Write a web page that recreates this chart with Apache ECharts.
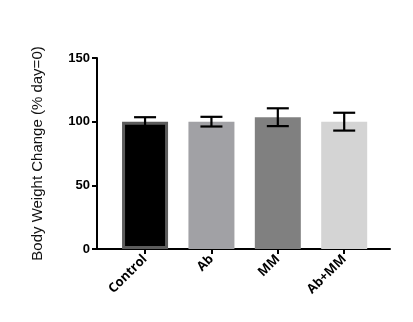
<!DOCTYPE html>
<html>
<head>
  <meta charset="utf-8" />
  <script src="https://cdn.jsdelivr.net/npm/echarts@6/dist/echarts.min.js"></script>
  <style>
    html, body { margin: 0; width: 100%; height: 100%; background: #fff; }
    #chart { width: 413px; height: 322px; }
  </style>
</head>
<body>
<div id="chart"></div>
<script>
  // groups, means and SEM
  const groups = ['Control', 'Ab', 'MM', 'Ab+MM']
  const means = [100, 100, 103.5, 100]
  const errs = [3.5, 3.8, 7, 7]
  const fills = ['#000000', '#a1a1a5', '#808080', '#d4d4d4']
  const yTicks = [0, 50, 100, 150]

  const chart = echarts.init(document.getElementById('chart'))

  const barData = groups.map((g, i) => ({
    value: [i, means[i]],
    itemStyle: {
      color: fills[i],
      borderColor: i === 0 ? '#5c5c5c' : fills[i],
      borderWidth: i === 0 ? 3 : 0
    }
  }))

  const errData = groups.map((g, i) => [i, means[i] - errs[i], means[i] + errs[i]])

  chart.setOption({
    animation: false,
    grid: { left: 97, right: 23, top: 58, bottom: 73 },
    xAxis: {
      type: 'value',
      min: -0.724,
      max: 3.69,
      splitLine: { show: false },
      axisLine: { show: true, onZero: false, lineStyle: { color: '#000', width: 2 } },
      axisTick: { show: true, customValues: [0, 1, 2, 3], length: 5, lineStyle: { color: '#000', width: 2 } },
      axisLabel: {
        customValues: [0, 1, 2, 3],
        formatter: v => groups[Math.round(v)] || '',
        rotate: 45,
        margin: 8,
        color: '#000',
        fontFamily: 'Open Sans',
        fontWeight: 'bold',
        fontSize: 13
      }
    },
    yAxis: {
      type: 'value',
      min: 0,
      max: 150,
      interval: 50,
      name: 'Body Weight Change (% day=0)',
      nameLocation: 'middle',
      nameGap: 52,
      nameTextStyle: { color: '#111', fontFamily: 'Liberation Sans', fontSize: 15 },
      splitLine: { show: false },
      axisLine: { show: true, onZero: false, lineStyle: { color: '#000', width: 2 } },
      axisTick: { show: true, length: 5, lineStyle: { color: '#000', width: 2 } },
      axisLabel: {
        color: '#000',
        fontFamily: 'Liberation Sans',
        fontWeight: 'bold',
        fontSize: 13,
        margin: 7,
        formatter: v => yTicks.includes(v) ? String(v) : ''
      }
    },
    series: [
      {
        type: 'bar',
        barWidth: 46,
        data: barData
      },
      {
        type: 'custom',
        z: 10,
        data: errData,
        renderItem: (params, api) => {
          const d = errData[params.dataIndex]
          const lo = api.coord([d[0], d[1]])
          const hi = api.coord([d[0], d[2]])
          const half = 11
          const style = { stroke: '#000', lineWidth: 2.2 }
          return {
            type: 'group',
            children: [
              { type: 'line', shape: { x1: hi[0], y1: hi[1], x2: lo[0], y2: lo[1] }, style },
              { type: 'line', shape: { x1: hi[0] - half, y1: hi[1], x2: hi[0] + half, y2: hi[1] }, style },
              { type: 'line', shape: { x1: lo[0] - half, y1: lo[1], x2: lo[0] + half, y2: lo[1] }, style }
            ]
          }
        }
      }
    ]
  })
</script>
</body>
</html>
